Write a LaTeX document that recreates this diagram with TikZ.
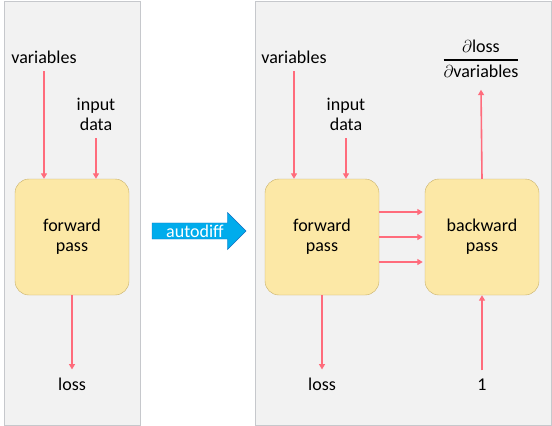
\documentclass[tikz,border=0pt]{standalone}
\usepackage{amsmath}
\usepackage{fontspec}
\setmainfont{Carlito}
\usetikzlibrary{arrows.meta,positioning,shapes.arrows}
\definecolor{panelgray}{RGB}{242,242,242}
\definecolor{panelborder}{RGB}{198,200,204}
\definecolor{passyellow}{RGB}{252,232,166}
\definecolor{passborder}{RGB}{200,176,104}
\definecolor{flowred}{RGB}{255,108,124}
\definecolor{diffblue}{RGB}{0,172,236}
\definecolor{diffborder}{RGB}{24,112,192}
\tikzset{
  panel/.style={rectangle, draw=panelborder, fill=panelgray, line width=0.8pt},
  pass/.style={rectangle, rounded corners=14pt, draw=passborder, fill=passyellow,
               minimum width=114pt, minimum height=116pt, align=center},
  io/.style={align=center, inner sep=0pt, outer sep=8pt},
  flow/.style={-{Triangle[length=5.5pt,width=6pt]}, line width=1.6pt, flowred},
  diffarrow/.style={single arrow, single arrow head extend=10.5pt, draw=diffborder,
                    fill=diffblue, text=white, inner xsep=5pt, inner ysep=1.5pt,
                    minimum height=94pt},
}

\begin{document}
\begin{tikzpicture}[x=1pt, y=-1pt, font=\fontsize{18}{20}\selectfont]
\useasboundingbox (0,0) rectangle (552,426);
% panels
\node[panel, minimum width=136pt, minimum height=424pt] (leftpanel) at (72,213) {};
\node[panel, minimum width=296pt, minimum height=424pt] (rightpanel) at (403,213) {};
% left side
\node[pass] (fwdA) at (72,237) {forward\\pass};
\node[io, anchor=base] (varsA) at (44,63) {variables};
\node[io, anchor=base] (dataA) at (96,130) {input\\data};
\node[io, anchor=base] (lossA) at (72,390) {loss};
\draw[flow] (varsA.south) -- (varsA.south |- fwdA.north);
\draw[flow] (dataA.south) -- (dataA.south |- fwdA.north);
\draw[flow] (fwdA.south) -- (lossA.north);
% autodiff
\node[diffarrow] (autodiff) at (195,231) {autodiff};
% right side
\node[pass] (fwdB) at (322,237) {forward\\pass};
\node[pass] (bwd) at (482,237) {backward\\pass};
\node[io, anchor=base] (varsB) at (294,63) {variables};
\node[io, anchor=base] (dataB) at (346,130) {input\\data};
\node[io, anchor=base] (lossB) at (322,390) {loss};
\node[io, anchor=base] (one) at (482,390) {1};
\node[io, outer sep=12pt] (grad) at (481,59)
  {$\genfrac{}{}{1.4pt}{0}{\partial\text{loss}}{\partial\text{variables}}$};
\draw[flow] (varsB.south) -- (varsB.south |- fwdB.north);
\draw[flow] (dataB.south) -- (dataB.south |- fwdB.north);
\draw[flow] (fwdB.south) -- (lossB.north);
\foreach \dy in {25,0,-25} {
  \path ([yshift=\dy pt]fwdB.east) coordinate (s);
  \draw[flow] (s) -- ([xshift=-2pt]s -| bwd.west);
}
\draw[flow] (one.north) -- (bwd.south);
\draw[flow] (bwd.north) -- (grad.south);
\end{tikzpicture}
\end{document}
